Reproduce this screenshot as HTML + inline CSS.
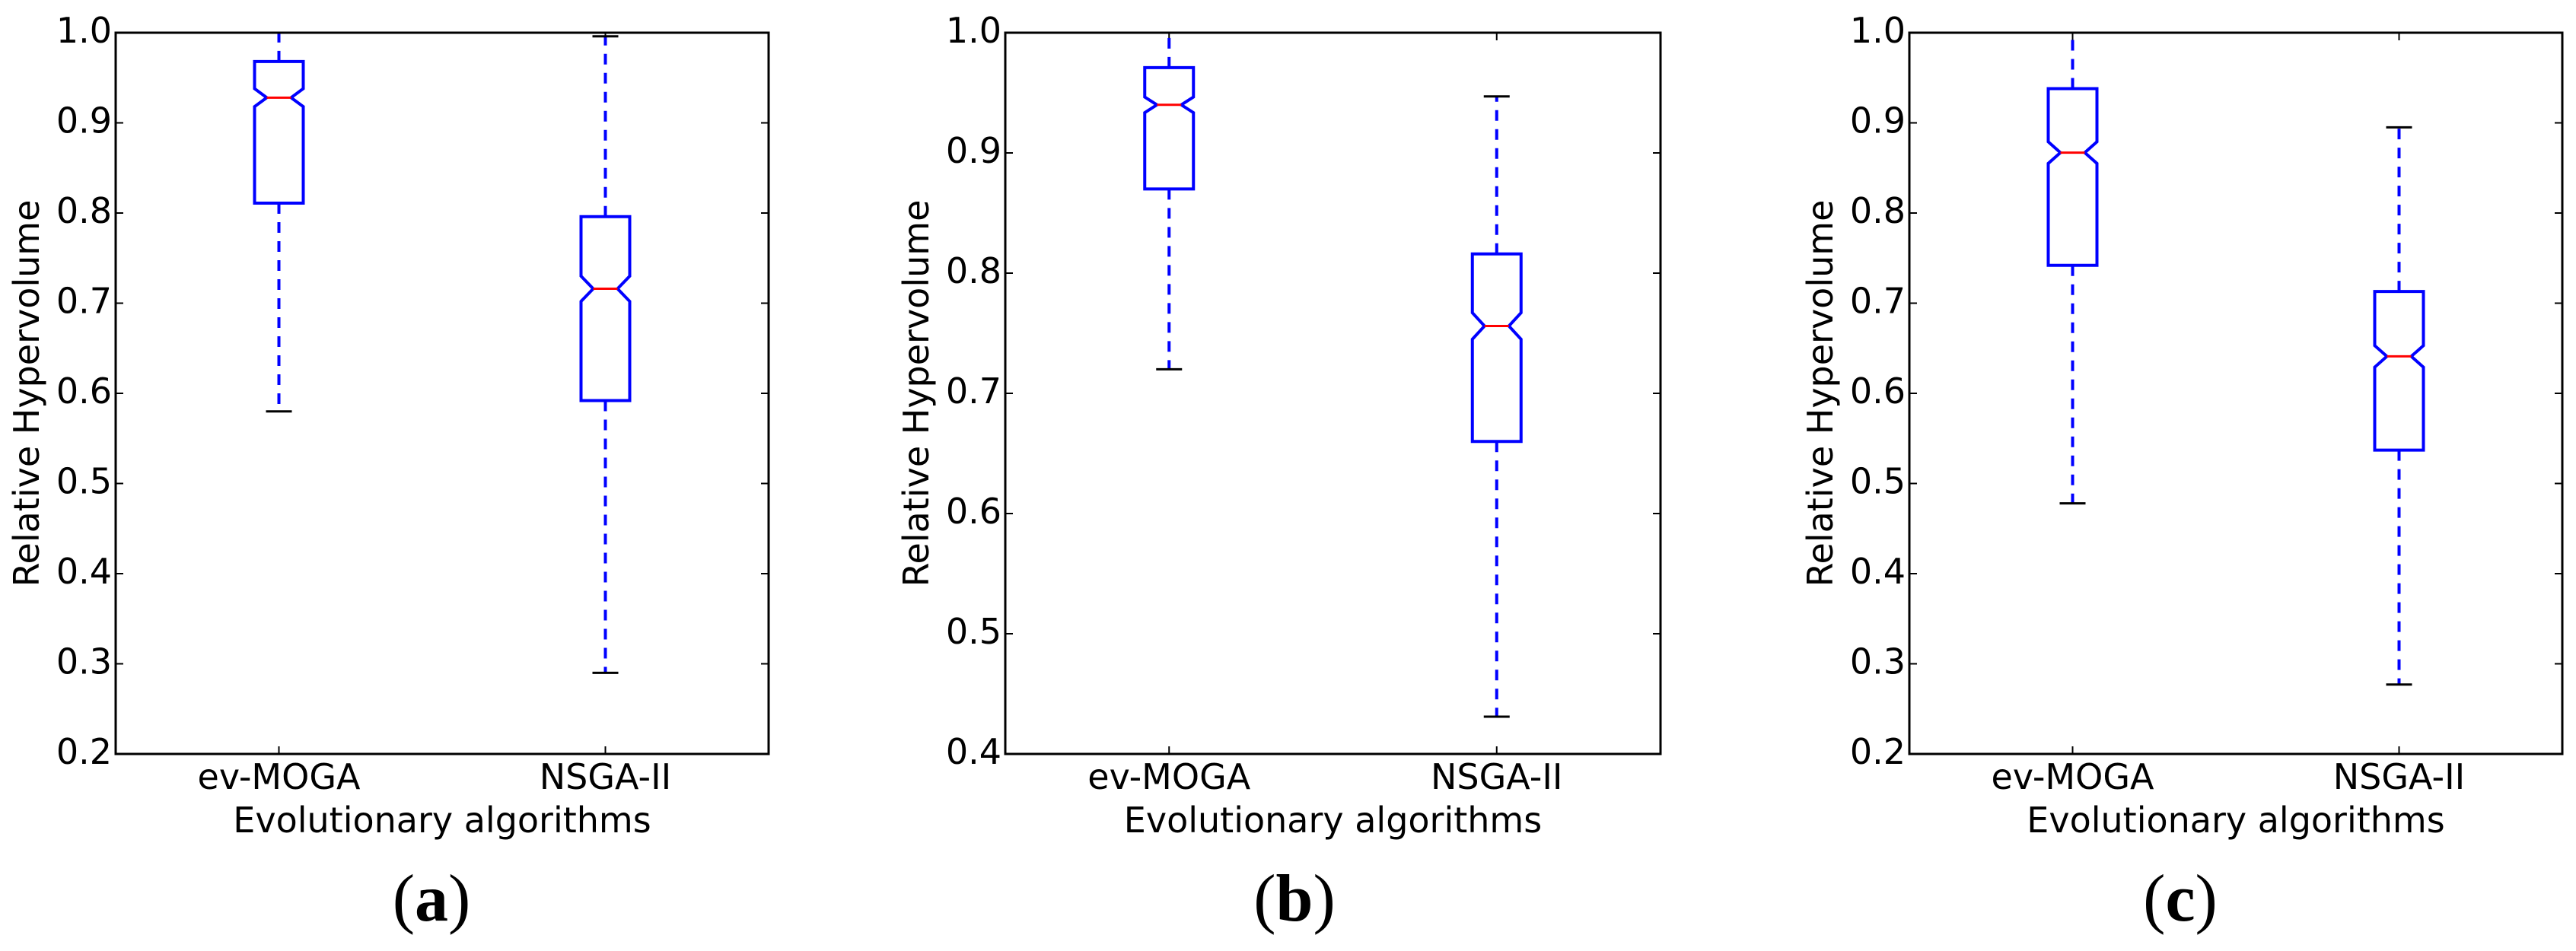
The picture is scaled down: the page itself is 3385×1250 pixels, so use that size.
<!DOCTYPE html>
<html><head><meta charset="utf-8"><style>
html,body{margin:0;padding:0;background:#fff;}
svg{display:block;}
</style></head><body>
<svg id="fig" width="3385" height="1250" viewBox="0 0 3385 1250" xmlns="http://www.w3.org/2000/svg"></svg>
<script>
const categories = ["ev-MOGA", "NSGA-II"];
const panelLetters = ["a", "b", "c"];
const yMins = [0.2, 0.4, 0.2];
const yMaxs = [1.0, 1.0, 1.0];
const yTicksA = ["0.2","0.3","0.4","0.5","0.6","0.7","0.8","0.9","1.0"];
const yTicksB = ["0.4","0.5","0.6","0.7","0.8","0.9","1.0"];
const yTicksC = ["0.2","0.3","0.4","0.5","0.6","0.7","0.8","0.9","1.0"];
// [whiskerLow, q1, median, q3, whiskerHigh] per category
const panelA = [[0.58, 0.811, 0.928, 0.968, 1.0], [0.29, 0.592, 0.716, 0.796, 0.996]];
const panelB = [[0.72, 0.870, 0.940, 0.971, 1.0], [0.431, 0.660, 0.756, 0.816, 0.947]];
const panelC = [[0.478, 0.742, 0.867, 0.938, 1.0], [0.277, 0.537, 0.641, 0.713, 0.895]];
// notch half-heights (confidence interval around median)
const notchA = [0.010, 0.014];
const notchB = [0.0065, 0.011];
const notchC = [0.012, 0.012];

const NS = "http://www.w3.org/2000/svg";
const svg = document.getElementById("fig");
function mk(tag, attrs, parent){
  const e = document.createElementNS(NS, tag);
  for (const k in attrs) e.setAttribute(k, attrs[k]);
  (parent||svg).appendChild(e);
  return e;
}
const layouts = [
  {left:152, right:1010, ylab:35, plab:567},
  {left:1321, right:2182, ylab:1204, plab:1701},
  {left:2509, right:3367, ylab:2392, plab:2865}
];
const TOP = 43, BOT = 991;
const allData = [panelA, panelB, panelC];
const allNotch = [notchA, notchB, notchC];
const allTicks = [yTicksA, yTicksB, yTicksC];
const FONT = '"DejaVu Sans","Liberation Sans",sans-serif';

allData.forEach((data, p) => {
  const L = layouts[p];
  const g = mk("g", {});
  
  
  const yS = v => BOT - (v - yMins[p]) / (yMaxs[p] - yMins[p]) * (BOT - TOP);
  const xS = i => L.left + (i + 1 - 0.5) / 2 * (L.right - L.left);
  allTicks[p].forEach(t => {
    const y = yS(parseFloat(t));
    const tk = mk("line", {x1:L.left, x2:L.left+10, y1:y, y2:y, stroke:"#000", "stroke-width":2}, g);
    
    
    mk("line", {x1:L.right-10, x2:L.right, y1:y, y2:y, stroke:"#000", "stroke-width":2}, g);
    const tx = mk("text", {x:L.left-5, y:y+13, "text-anchor":"end", "font-family":FONT, "font-size":46, fill:"#000"}, g);
    tx.textContent = t;
    
    
  });
  categories.forEach((c, i) => {
    const x = xS(i);
    mk("line", {x1:x, x2:x, y1:BOT, y2:BOT-10, stroke:"#000", "stroke-width":2}, g);
    mk("line", {x1:x, x2:x, y1:TOP, y2:TOP+10, stroke:"#000", "stroke-width":2}, g);
    const tx = mk("text", {x:x, y:1037, "text-anchor":"middle", "font-family":FONT, "font-size":46, fill:"#000"}, g);
    tx.textContent = c;
    
    
    const d = data[i], n = allNotch[p][i];
    const hw = 32, nw = 16, cw = 17;
    const yq1 = yS(d[1]), yq3 = yS(d[3]), ym = yS(d[2]);
    const ynl = yS(d[2]-n), ynh = yS(d[2]+n);
    const wl = mk("line", {x1:x, x2:x, y1:yq1, y2:yS(d[0]), stroke:"#0000ff", "stroke-width":4, "stroke-dasharray":"14,11"}, g);
    
    
    const wh = mk("line", {x1:x, x2:x, y1:yq3, y2:yS(d[4]), stroke:"#0000ff", "stroke-width":4, "stroke-dasharray":"14,11"}, g);
    
    
    const c1 = mk("line", {x1:x-cw, x2:x+cw, y1:yS(d[0]), y2:yS(d[0]), stroke:"#000", "stroke-width":3}, g);
    
    
    const c2 = mk("line", {x1:x-cw, x2:x+cw, y1:yS(d[4]), y2:yS(d[4]), stroke:"#000", "stroke-width":3}, g);
    
    
    const pts = [[x-hw,yq1],[x+hw,yq1],[x+hw,ynl],[x+nw,ym],[x+hw,ynh],[x+hw,yq3],[x-hw,yq3],[x-hw,ynh],[x-nw,ym],[x-hw,ynl]];
    const bx = mk("polygon", {points:pts.map(q=>q.join(",")).join(" "), fill:"none", stroke:"#0000ff", "stroke-width":4}, g);
    
    
    const md = mk("line", {x1:x-nw, x2:x+nw, y1:ym, y2:ym, stroke:"#ff0000", "stroke-width":3}, g);
    
    
  });
  const fr = mk("rect", {x:L.left, y:TOP, width:L.right-L.left, height:BOT-TOP, fill:"none", stroke:"#000", "stroke-width":3}, g);
  
  
  const yl = mk("text", {x:L.ylab+16, y:(TOP+BOT)/2, transform:`rotate(-90 ${L.ylab+16} ${(TOP+BOT)/2})`, "text-anchor":"middle", "font-family":FONT, "font-size":46, fill:"#000"}, g);
  yl.textContent = "Relative Hypervolume";
  
  
  const xl = mk("text", {x:(L.left+L.right)/2, y:1094, "text-anchor":"middle", "font-family":FONT, "font-size":46, fill:"#000"}, g);
  xl.textContent = "Evolutionary algorithms";
  
  
  const pl = mk("text", {x:L.plab, y:1210, "text-anchor":"middle", "font-family":'"Liberation Serif",serif', "font-size":88, fill:"#000"}, g);
  
  
  const t1 = mk("tspan", {}, pl); t1.textContent = "(";
  const t2 = mk("tspan", {"font-weight":"bold"}, pl); t2.textContent = panelLetters[p];
  const t3 = mk("tspan", {}, pl); t3.textContent = ")";
});
</script>
</body></html>
